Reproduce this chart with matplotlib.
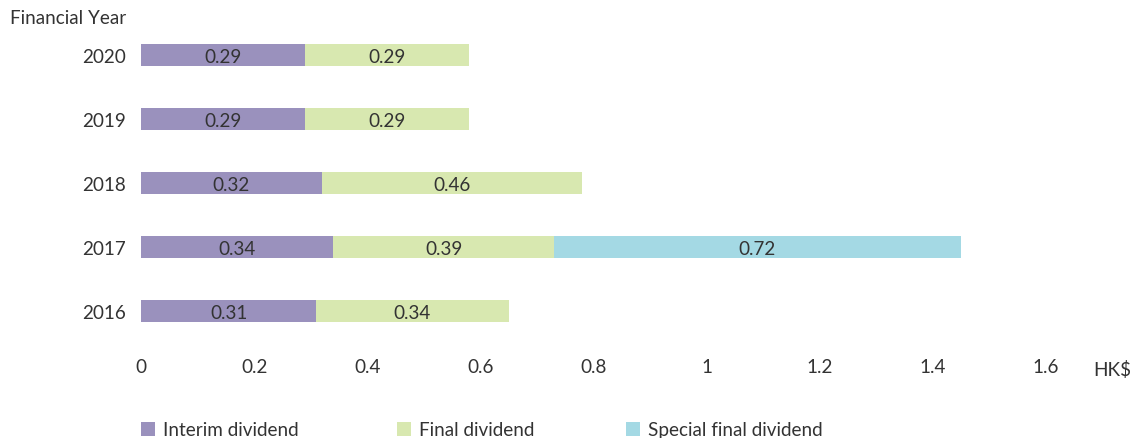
import numpy as np
from matplotlib import pyplot as plt

years = ['2020', '2019', '2018', '2017', '2016']
interim = [0.29, 0.29, 0.32, 0.34, 0.31]
final = [0.29, 0.29, 0.46, 0.39, 0.34]
special = [0.0, 0.0, 0.0, 0.72, 0.0]
xticks = [0, 0.2, 0.4, 0.6, 0.8, 1.0, 1.2, 1.4, 1.6]
xtick_labels = ['0', '0.2', '0.4', '0.6', '0.8', '1', '1.2', '1.4', '1.6']


def main():
    plt.rcParams['font.family'] = ['Lato', 'DejaVu Sans']
    txt = '#333333'
    fs = 13.6

    fig = plt.figure(figsize=(11.34, 4.39), dpi=100)
    ax = fig.add_axes([141/1134, 95/439, (1045.8-141)/1134, 320/439])

    y = np.arange(len(years))
    h = 0.35
    series = [(interim, '#9a91bd', 'Interim dividend'),
              (final, '#d8e8b0', 'Final dividend'),
              (special, '#a4d9e4', 'Special final dividend')]
    left = np.zeros(len(years))
    handles = []
    for vals, col, lab in series:
        vals = np.array(vals)
        bars = ax.barh(y, vals, left=left, height=h, color=col, label=lab)
        handles.append(bars)
        for yi, l, v in zip(y, left, vals):
            if v > 0:
                ax.text(l + v/2, yi + 0.03, '%.2f' % v, ha='center', va='center',
                        fontsize=fs, color=txt)
        left = left + vals

    ax.set_xlim(0, 1.6)
    ax.set_ylim(len(years) - 0.5, -0.5)
    ax.set_yticks(y)
    ax.set_yticklabels(years)
    ax.set_xticks(xticks)
    ax.set_xticklabels(xtick_labels)
    ax.tick_params(axis='both', length=0, labelsize=fs, colors=txt)
    ax.tick_params(axis='x', pad=11)
    ax.tick_params(axis='y', pad=11)
    for s in ax.spines.values():
        s.set_visible(False)

    fig.text(1093/1134, 1 - 370/439, 'HK$', ha='left', va='center',
             fontsize=fs, color=txt)
    fig.text(10/1134, 1 - 18/439, 'Financial Year', ha='left', va='center',
             fontsize=fs, color=txt)

    # legend row, partly cut off at the bottom like the original
    xs = [141, 397, 626]
    for hnd, xp in zip(handles, xs):
        fig.legend([hnd], [hnd.get_label()], loc='center left',
                   bbox_to_anchor=(xp/1134, 8/439), frameon=False,
                   borderpad=0, borderaxespad=0, handlelength=0.75,
                   handleheight=0.75, handletextpad=0.4,
                   fontsize=fs, labelcolor=txt)

    fig.savefig('out.png', dpi=100)


if __name__ == '__main__':
    main()
